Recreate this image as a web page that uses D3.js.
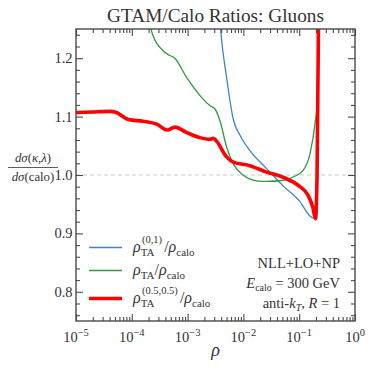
<!DOCTYPE html>
<html><head><meta charset="utf-8">
<script src="https://cdn.jsdelivr.net/npm/d3@7"></script>
<style>body{margin:0;background:#fff}svg{display:block}text{font-family:"Liberation Serif","DejaVu Serif",serif;fill:#333}</style>
</head><body><svg id="c" width="374" height="374"></svg>
<script>
// ---- data ----
const xTicks = [1e-5, 1e-4, 1e-3, 1e-2, 1e-1, 1];
const xTickExp = ["−5", "−4", "−3", "−2", "−1", "0"];
const yTicks = [0.8, 0.9, 1.0, 1.1, 1.2];
const yTickLabels = ["0.8", "0.9", "1.0", "1.1", "1.2"];

const blueRho = [3.7e-3, 3.9e-3, 5.0e-3, 6.6e-3, 8.7e-3, 1.3e-2, 2.6e-2, 5.2e-2, 0.10, 0.155, 0.178, 0.192, 0.209, 0.222, 0.229];
const blueVal = [1.28, 1.25, 1.167, 1.095, 1.068, 1.042, 1.011, 0.981, 0.956, 0.930, 0.926, 0.927, 1.0, 1.25, 1.3];

const greenRho = [2.0e-4, 2.2e-4, 3.7e-4, 4.5e-4, 5.9e-4, 9.6e-4, 1.67e-3, 2.5e-3, 3.1e-3, 3.8e-3, 5.0e-3, 6.6e-3, 1.0e-2, 1.74e-2, 2.6e-2, 5.2e-2, 7.8e-2, 0.118, 0.156, 0.192, 0.211, 0.231, 0.24];
const greenVal = [1.27, 1.25, 1.212, 1.206, 1.200, 1.167, 1.136, 1.119, 1.113, 1.093, 1.048, 1.019, 0.9995, 0.990, 0.989, 0.991, 0.9966, 1.008, 1.036, 1.088, 1.127, 1.25, 1.3];

const redRho = [1e-5, 2e-5, 4.1e-5, 5e-5, 8.7e-5, 1.6e-4, 2.8e-4, 4.3e-4, 5.9e-4, 9.5e-4, 1.66e-3, 2.5e-3, 2.9e-3, 3.3e-3, 5.0e-3, 6.6e-3, 1.3e-2, 2.6e-2, 5.2e-2, 0.10, 0.145, 0.175, 0.196, 0.209, 0.221, 0.226];
const redVal = [1.107, 1.108, 1.109, 1.108, 1.095, 1.092, 1.087, 1.077, 1.082, 1.073, 1.064, 1.061, 1.063, 1.058, 1.031, 1.022, 1.016, 1.005, 0.996, 0.981, 0.965, 0.945, 0.925, 1.0, 1.25, 1.3];

const svg = d3.select("#c");
const L = 76, R = 355, T = 29, B = 321;
const x = d3.scaleLog().domain([1e-5, 1]).range([L, R]);
const y = d3.scaleLinear().domain([0.75, 1.25]).range([B, T]);
const frame = "#4a4a4a";

svg.append("defs").append("clipPath").attr("id", "clip")
  .append("rect").attr("x", L).attr("y", T).attr("width", R - L).attr("height", B - T);

// dashed reference line
svg.append("line").attr("x1", L).attr("x2", R).attr("y1", y(1)).attr("y2", y(1))
  .attr("stroke", "#c8c8c8").attr("stroke-width", 1).attr("stroke-dasharray", "4,3");

// curves
const line = d3.line().x(d => x(d[0])).y(d => y(d[1])).curve(d3.curveMonotoneX);
const g = svg.append("g").attr("clip-path", "url(#clip)");
function series(rho, val, color, w) {
  g.append("path").datum(rho.map((r, i) => [r, val[i]]))
    .attr("d", line).attr("fill", "none").attr("stroke", color)
    .attr("stroke-width", w).attr("stroke-linejoin", "round");
}
series(blueRho, blueVal, "#3d84c6", 1.3);
series(greenRho, greenVal, "#2f9a42", 1.3);
series(redRho, redVal, "#ff0000", 3.6);

// axes (ticks inward on all sides)
const minorX = [];
for (let e = -5; e < 0; e++) for (let k = 2; k <= 9; k++) minorX.push(k * Math.pow(10, e));
const minorY = d3.range(0.76, 1.25, 0.02).filter(v => Math.abs(Math.round(v * 10) - v * 10) > 1e-6);

function ax(axisFn, scale, ticks, size, tr) {
  const a = svg.append("g").attr("transform", tr)
    .call(axisFn(scale).tickValues(ticks).tickSize(size).tickFormat(""));
  a.select(".domain").remove();
  a.selectAll("line").attr("stroke", frame).attr("stroke-width", 1.1);
}
ax(d3.axisBottom, x, xTicks, -7, `translate(0,${B})`);
ax(d3.axisBottom, x, minorX, -4, `translate(0,${B})`);
ax(d3.axisTop, x, xTicks, -7, `translate(0,${T})`);
ax(d3.axisTop, x, minorX, -4, `translate(0,${T})`);
ax(d3.axisLeft, y, yTicks, -7, `translate(${L},0)`);
ax(d3.axisLeft, y, minorY, -4, `translate(${L},0)`);
ax(d3.axisRight, y, yTicks, -7, `translate(${R},0)`);
ax(d3.axisRight, y, minorY, -4, `translate(${R},0)`);

svg.append("rect").attr("x", L).attr("y", T).attr("width", R - L).attr("height", B - T)
  .attr("fill", "none").attr("stroke", frame).attr("stroke-width", 1.4);

// tick labels
yTicks.forEach((v, i) => {
  svg.append("text").attr("x", L - 3.5).attr("y", y(v) + 5).attr("text-anchor", "end")
    .attr("font-size", 14.5).text(yTickLabels[i]);
});
xTicks.forEach((v, i) => {
  const t = svg.append("text").attr("x", x(v)).attr("y", 342).attr("text-anchor", "middle").attr("font-size", 14.5);
  t.append("tspan").text("10");
  t.append("tspan").attr("dy", -6).attr("font-size", 10.5).text(xTickExp[i]);
});

// title
const title = svg.append("text").attr("x", 215.5).attr("y", 22).attr("text-anchor", "middle")
  .attr("font-size", 15).text("GTAM/Calo Ratios: Gluons");
const tw = title.node().getComputedTextLength();
title.attr("font-size", 15 * 217 / tw);

// x label
svg.append("text").attr("x", 215.5).attr("y", 356).attr("text-anchor", "middle")
  .attr("font-size", 18).attr("font-style", "italic").text("ρ");

// y label fraction
svg.append("text").attr("x", 33).attr("y", 162).attr("text-anchor", "middle").attr("font-size", 12.8)
  .html('<tspan font-style="italic">dσ</tspan>(<tspan font-style="italic">κ</tspan>,<tspan font-style="italic">λ</tspan>)');
svg.append("line").attr("x1", 8).attr("x2", 58).attr("y1", 167.5).attr("y2", 167.5).attr("stroke", "#333").attr("stroke-width", 0.8);
svg.append("text").attr("x", 33).attr("y", 180.5).attr("text-anchor", "middle").attr("font-size", 12.8)
  .html('<tspan font-style="italic">dσ</tspan>(calo)');

// legend
const legend = [
  { color: "#3d84c6", w: 1.6, y: 247.5, sup: "(0,1)" },
  { color: "#2f9a42", w: 1.6, y: 270.5, sup: null },
  { color: "#ff0000", w: 3.6, y: 298.5, sup: "(0.5,0.5)" }
];
legend.forEach(d => {
  svg.append("line").attr("x1", 89).attr("x2", 122).attr("y1", d.y).attr("y2", d.y)
    .attr("stroke", d.color).attr("stroke-width", d.w);
  const t = svg.append("text").attr("x", 133).attr("y", d.y + 4).attr("font-size", 16);
  t.append("tspan").attr("font-style", "italic").text("ρ");
  if (d.sup) {
    const sx = 142;
    t.append("tspan").attr("font-size", 11).attr("dy", 4).text("TA");
    const s = svg.append("text").attr("x", sx).attr("y", d.y - 5).attr("font-size", 10.5).text(d.sup);
    const sw = s.node().getComputedTextLength();
    const tt = svg.append("text").attr("x", sx + sw + 2).attr("y", d.y + 4).attr("font-size", 16);
    tt.append("tspan").text("/");
    tt.append("tspan").attr("font-style", "italic").text("ρ");
    tt.append("tspan").attr("font-size", 11).attr("dy", 4).text("calo");
  } else {
    t.append("tspan").attr("font-size", 11).attr("dy", 4).text("TA");
    t.append("tspan").attr("font-size", 16).attr("dy", -4).text("/");
    t.append("tspan").attr("font-style", "italic").text("ρ");
    t.append("tspan").attr("font-size", 11).attr("dy", 4).text("calo");
  }
});

// annotation
const ax0 = 340;
svg.append("text").attr("x", ax0).attr("y", 268).attr("text-anchor", "end").attr("font-size", 14.5).text("NLL+LO+NP");
svg.append("text").attr("x", ax0).attr("y", 288).attr("text-anchor", "end").attr("font-size", 14.5)
  .html('<tspan font-style="italic">E</tspan><tspan font-size="10" dy="3">calo</tspan><tspan dy="-3"> = 300 GeV</tspan>');
svg.append("text").attr("x", ax0).attr("y", 308).attr("text-anchor", "end").attr("font-size", 14.5)
  .html('anti-<tspan font-style="italic">k</tspan><tspan font-size="10" dy="3" font-style="italic">T</tspan><tspan dy="-3">, </tspan><tspan font-style="italic">R</tspan> = 1');
</script></body></html>
